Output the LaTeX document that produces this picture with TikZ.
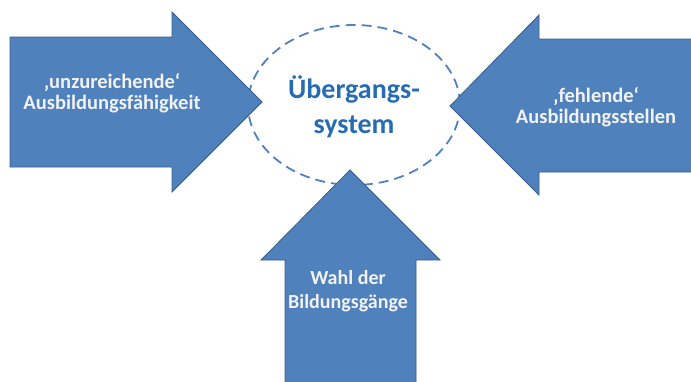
\documentclass[tikz,border=0pt]{standalone}
\usepackage{fontspec}
\setmainfont{Carlito}
\definecolor{arrowblue}{RGB}{79,129,189}
\definecolor{arrowedge}{RGB}{56,93,138}
\definecolor{titleblue}{RGB}{38,108,178}
\definecolor{textwhite}{RGB}{242,242,242}
\tikzset{
  bigarrow/.style={fill=arrowblue, draw=arrowedge, line width=0.8pt, line join=miter},
  arrowtext/.style={text=textwhite, font=\bfseries\fontsize{20.5}{21.5}\selectfont, align=center},
}
\begin{document}
\begin{tikzpicture}[x=1pt, y=-1pt]
        \useasboundingbox (0,0) rectangle (691,381);

        % Draw the dashed ellipse in the middle
        \draw[arrowblue, line width=1.8pt, dash pattern=on 10pt off 6pt]
            (354,105) ellipse [x radius=106, y radius=80];

        % Draw the left arrow
        \draw[bigarrow] (10,37) -- (172,37) -- (172,12) -- (262,102)
            -- (172,192) -- (172,167) -- (10,167) -- cycle;

        % Draw the right arrow
        \draw[bigarrow] (695,39) -- (539,39) -- (539,15) -- (450,106)
            -- (539,195) -- (539,172) -- (695,172) -- cycle;

        % Draw the bottom arrow
        \draw[bigarrow] (285,385) -- (285,260) -- (261,260) -- (350,170)
            -- (440,260) -- (416,260) -- (416,385) -- cycle;

        % Add the labels
        \node[text=titleblue, font=\bfseries\fontsize{28}{35}\selectfont, align=center]
            (system) at (354,107) {Übergangs-\\system};
        \node[arrowtext] (faehigkeit) at (112,93) {‚unzureichende‘\\Ausbildungsfähigkeit};
        \node[arrowtext] (stellen) at (596,107) {‚fehlende‘\\Ausbildungsstellen};
        \node[arrowtext, font=\bfseries\fontsize{20}{24}\selectfont] (gaenge) at (348,291)
            {Wahl der\\Bildungsgänge};

\end{tikzpicture}
\end{document}
